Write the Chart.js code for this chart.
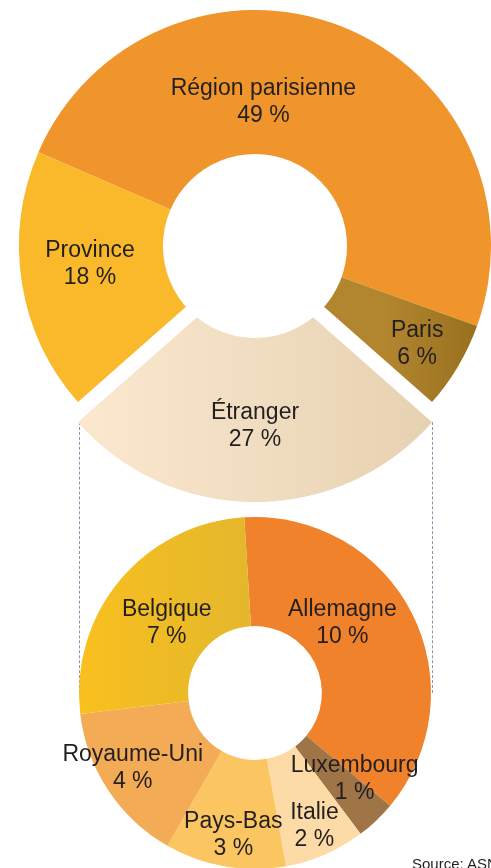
<!DOCTYPE html>
<html lang="fr">
<head>
<meta charset="utf-8">
<script src="https://cdn.jsdelivr.net/npm/chart.js@4.4.1/dist/chart.umd.min.js"></script>
<style>
html, body { margin: 0; padding: 0; width: 491px; height: 868px; overflow: hidden; background: #fff; }
#chartTop { position: absolute; left: 0; top: 0; }
#chartBottom { position: absolute; left: 0; top: 500px; }
.guide { position: absolute; width: 0; border-left: 1px dashed #8795ad; }
#source { position: absolute; left: 412px; top: 855px; font: 15px "Liberation Sans", Arial, sans-serif; color: #231f20; white-space: nowrap; }
</style>
</head>
<body>
<div class="guide" style="left:79px; top:422px; height:271px"></div>
<div class="guide" style="left:432px; top:422px; height:271px"></div>
<canvas id="chartTop" width="510" height="520"></canvas>
<canvas id="chartBottom" width="510" height="386"></canvas>
<div id="source">Source: ASN</div>
<script>
// données
var topLabels = ["Région parisienne", "Paris", "Étranger", "Province"];
var topValues = [49, 6, 27, 18];
var bottomLabels = ["Allemagne", "Luxembourg", "Italie", "Pays-Bas", "Royaume-Uni", "Belgique"];
var bottomValues = [10, 1, 2, 3, 4, 7];

// couleurs
var topColors = ["#f0952b", ["#b2862e", "#98701f"], ["#fbe8cf", "#e6d1b1"], "#f9b92b"];
var bottomColors = ["#f0822b", "#9f7447", "#fddba6", "#fbc661", "#f4ab55", ["#f9c01f", "#e4b72c"]];

// dégradé horizontal (f0, f1 = position en fraction du rayon)
function hGrad(chart, radius, f0, f1, c) {
    var a = chart.chartArea;
    if (!a) return c[0];
    var cx = (a.left + a.right) / 2;
    var g = chart.ctx.createLinearGradient(cx + f0 * radius, 0, cx + f1 * radius, 0);
    g.addColorStop(0, c[0]);
    g.addColorStop(1, c[1]);
    return g;
}

// étiquettes + trou blanc
var sliceLabels = {
    id: 'sliceLabels',
    afterDatasetsDraw: function (chart, args, opts) {
        var ctx = chart.ctx;
        var meta = chart.getDatasetMeta(0);
        var values = chart.data.datasets[0].data;
        var first = meta.data[0];
        var hole = opts.hole ? opts.hole * first.outerRadius : first.innerRadius;
        ctx.save();
        if (opts.hole) {
            ctx.fillStyle = "#fff";
            ctx.beginPath();
            ctx.arc(first.x, first.y, hole, 0, Math.PI * 2);
            ctx.fill();
        }
        ctx.font = '23px "Liberation Sans", Arial, sans-serif';
        ctx.fillStyle = "#231f20";
        ctx.textAlign = "center";
        ctx.textBaseline = "middle";
        meta.data.forEach(function (arc, i) {
            var mid = (arc.startAngle + arc.endAngle) / 2;
            // ArcElement déplace de offset / 4
            var r = (hole + arc.outerRadius) / 2 + (arc.options.offset || 0) / 4;
            var n = opts.nudges[i] || [0, 0];
            var x = arc.x + Math.cos(mid) * r + n[0];
            var y = arc.y + Math.sin(mid) * r + n[1];
            ctx.fillText(chart.data.labels[i], x, y - 13);
            ctx.fillText(values[i] + " %", x, y + 14);
        });
        ctx.restore();
    }
};

// rotation : Étranger centré en bas
var topRotation = 180 - (topValues[0] + topValues[1]) * 3.6 - topValues[2] * 1.8;

var ChartTop = new Chart(document.getElementById("chartTop"), {
    type: 'doughnut',
    data: {
        labels: topLabels,
        datasets: [{
            data: topValues,
            backgroundColor: function (c) {
                var col = topColors[c.dataIndex];
                if (c.dataIndex === 1) return hGrad(c.chart, 236, 0.55, 0.94, col);
                if (c.dataIndex === 2) return hGrad(c.chart, 236, -0.75, 0.75, col);
                return col;
            },
            borderWidth: 0,
            offset: [0, 0, 80, 0],
            hoverOffset: 0,
            clip: false
        }]
    },
    options: {
        responsive: false,
        animation: false,
        radius: 236,
        cutout: '30%',
        rotation: topRotation,
        layout: { padding: { bottom: 28 } },
        events: [],
        plugins: {
            legend: { display: false },
            tooltip: { enabled: false },
            sliceLabels: { hole: 0.39, nudges: [[-52, 8], [21, 14], [0, -4], [-3, -8]] }
        }
    },
    plugins: [sliceLabels]
});

var ChartBottom = new Chart(document.getElementById("chartBottom"), {
    type: 'doughnut',
    data: {
        labels: bottomLabels,
        datasets: [{
            data: bottomValues,
            backgroundColor: function (c) {
                var col = bottomColors[c.dataIndex];
                if (c.dataIndex === 5) return hGrad(c.chart, 176, -1, -0.04, col);
                return col;
            },
            borderWidth: 0,
            hoverOffset: 0,
            clip: false
        }]
    },
    options: {
        responsive: false,
        animation: false,
        radius: 176,
        cutout: '38%',
        rotation: -3.5,
        events: [],
        plugins: {
            legend: { display: false },
            tooltip: { enabled: false },
            sliceLabels: { hole: 0, nudges: [[-21, -16], [16, -2], [11, 21], [-1, 22], [-21, 8], [5, 7]] }
        }
    },
    plugins: [sliceLabels]
});
</script>
</body>
</html>
